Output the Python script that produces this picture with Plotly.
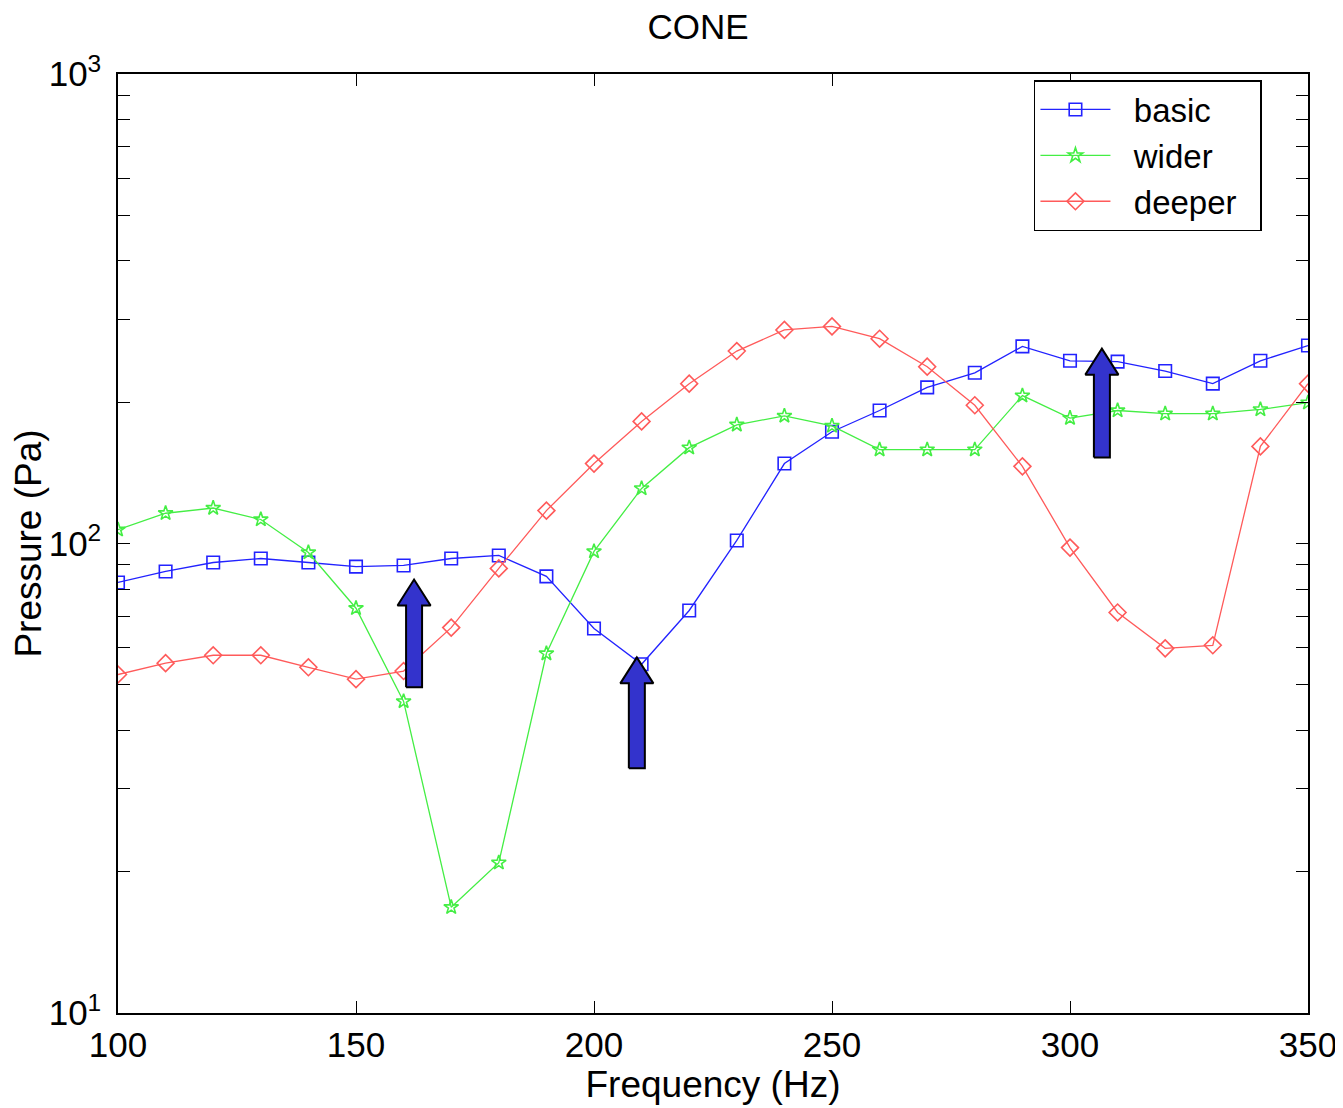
import plotly.graph_objects as go
import numpy as np

freq = [100, 110, 120, 130, 140, 150, 160, 170, 180, 190, 200, 210, 220,
        230, 240, 250, 260, 270, 280, 290, 300, 310, 320, 330, 340, 350]

basic = [82.6, 87.2, 91.1, 92.9, 91.1, 89.3, 89.8, 92.9, 94.3, 85.1, 65.9, 55.3, 72.0,
         101.5, 148, 173, 192, 215, 231, 263, 245, 244, 233, 219, 245, 264]
wider = [107, 116, 119, 112.5, 95.7, 72.8, 46.1, 16.8, 20.9, 58.3, 96.2, 131, 160,
         179, 187, 178, 158.5, 158.5, 158.5, 206.5, 185, 192, 189, 189, 193, 199.5]
deeper = [52.6, 55.6, 57.8, 57.8, 54.5, 51.4, 53.5, 66.2, 88.5, 117.5, 148, 182, 219,
          257, 285, 290, 273, 238, 197, 146, 98, 71.3, 59.8, 60.7, 161, 219]

# annotation arrows: x position, tail value, tip value
arrow_x = [162.2, 209.0, 306.7]
arrow_tail = [49.4, 33.2, 152.5]
arrow_tip = [83.8, 57.2, 260.0]

x_ticks = [100, 150, 200, 250, 300, 350]
y_ticks = [10, 100, 1000]
y_ticktext = ["10<sup>1</sup>", "10<sup>2</sup>", "10<sup>3</sup>"]

FONT = "Liberation Sans, Arial, sans-serif"
NB = "\u00a0"

fig = go.Figure()

series = [
    ("basic", basic, "#2222ff", "square-open", 12.5),
    ("wider", wider, "#44ee44", "star-open", 11),
    ("deeper", deeper, "#ff5a5a", "diamond-open", 13),
]
for name, vals, col, sym, sz in series:
    fig.add_trace(go.Scatter(
        x=freq, y=vals, name=NB + NB + name + NB + NB, mode="lines+markers",
        line=dict(color=col, width=1.3),
        marker=dict(symbol=sym, size=sz, color=col, line=dict(width=1.6, color=col)),
    ))

# thick filled arrows built as polygons in data space
shaft_hw = 1.68    # Hz
head_hw = 3.47     # Hz
head_h = 0.0553    # decades
for ax_, tl, tp in zip(arrow_x, arrow_tail, arrow_tip):
    base = 10 ** (np.log10(tp) - head_h)
    xs = [ax_ - shaft_hw, ax_ - shaft_hw, ax_ - head_hw, ax_, ax_ + head_hw,
          ax_ + shaft_hw, ax_ + shaft_hw, ax_ - shaft_hw]
    ys = [tl, base, base, tp, base, base, tl, tl]
    fig.add_trace(go.Scatter(
        x=xs, y=ys, mode="lines", fill="toself", fillcolor="#3333cc",
        line=dict(color="black", width=2), showlegend=False, hoverinfo="skip",
    ))

fig.update_layout(
    width=1335, height=1100,
    margin=dict(l=110, r=35, t=66, b=95),
    paper_bgcolor="white", plot_bgcolor="white",
    font=dict(family=FONT, size=35, color="black"),
    title=dict(text="CONE", x=0.5169, xanchor="center", y=0.9827, yanchor="middle",
               font=dict(family=FONT, size=35, color="black")),
    showlegend=True,
    legend=dict(x=0.9613, xanchor="right", y=0.9936, yanchor="top",
                bgcolor="white", bordercolor="black", borderwidth=1.5,
                font=dict(family=FONT, size=33, color="black"),
                itemwidth=70, tracegroupgap=0),
    xaxis=dict(
        range=[100, 350], tickvals=x_ticks, ticks="inside", ticklen=12,
        tickcolor="black", showline=True, linecolor="black", linewidth=1.5,
        mirror="ticks", showgrid=False, zeroline=False, automargin=False,
        title=dict(text="Frequency (Hz)", standoff=6,
                   font=dict(family=FONT, size=37)),
        tickfont=dict(family=FONT, size=35),
    ),
    yaxis=dict(
        type="log", range=[1, 3], tickvals=y_ticks, ticktext=y_ticktext,
        ticks="inside", ticklen=12, tickcolor="black",
        minor=dict(ticks="inside", ticklen=12, tickcolor="black", dtick="D1"),
        showline=True, linecolor="black", linewidth=1.5, mirror="allticks",
        showgrid=False, zeroline=False, automargin=False,
        ticklabelstandoff=8,
        title=dict(text="Pressure (Pa)", standoff=20,
                   font=dict(family=FONT, size=37)),
        tickfont=dict(family=FONT, size=35),
    ),
)

fig.write_html("out.html")
